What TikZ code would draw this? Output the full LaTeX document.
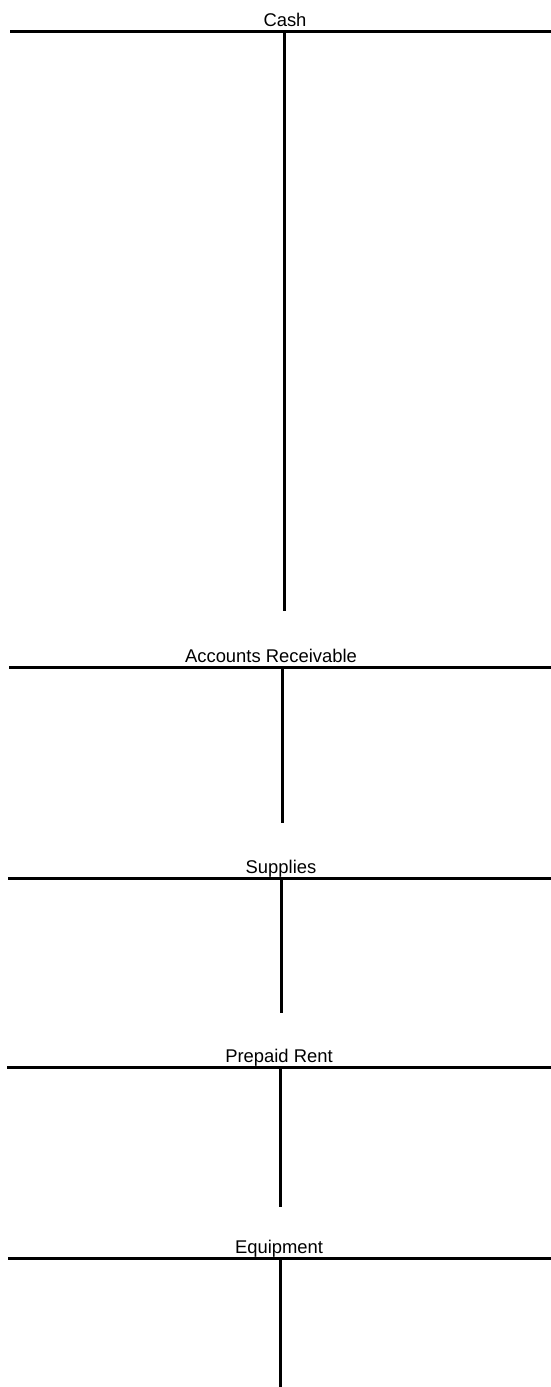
\documentclass[tikz,border=0pt]{standalone}
\usepackage{fontspec}
\setmainfont{Liberation Sans}
\usepackage{tikz}
\usetikzlibrary{calc}

\begin{document}
\begin{tikzpicture}[x=1pt,y=-1pt]

% Define styles
\tikzset{
    rule/.style={line width=3pt},
    title/.style={anchor=base, inner sep=0pt, font=\fontsize{18.4}{20}\selectfont}
}

% page frame
\useasboundingbox (0,0) rectangle (551,1387);

% Cash
\coordinate (cashL) at (10,31);
\coordinate (cashR) at (551,31);
\coordinate (cashT) at (284,31);
\coordinate (cashB) at (284,611);
\node[title] (cash) at (285,26) {Cash};
\draw[rule] (cashL) -- (cashR);
\draw[rule] (cashT) -- (cashB);

% Accounts Receivable
\coordinate (recL) at (9,667);
\coordinate (recR) at (551,667);
\coordinate (recT) at (282,667);
\coordinate (recB) at (282,823);
\node[title] (rec) at (271,662) {Accounts Receivable};
\draw[rule] (recL) -- (recR);
\draw[rule] (recT) -- (recB);

% Supplies
\coordinate (supL) at (8,878);
\coordinate (supR) at (551,878);
\coordinate (supT) at (281,878);
\coordinate (supB) at (281,1013);
\node[title] (sup) at (281,873) {Supplies};
\draw[rule] (supL) -- (supR);
\draw[rule] (supT) -- (supB);

% Prepaid Rent
\coordinate (rentL) at (7,1067);
\coordinate (rentR) at (551,1067);
\coordinate (rentT) at (280,1067);
\coordinate (rentB) at (280,1207);
\node[title] (rent) at (279,1062) {Prepaid Rent};
\draw[rule] (rentL) -- (rentR);
\draw[rule] (rentT) -- (rentB);

% Equipment
\coordinate (eqL) at (8,1258);
\coordinate (eqR) at (551,1258);
\coordinate (eqT) at (280,1258);
\coordinate (eqB) at (280,1387);
\node[title] (eq) at (279,1253) {Equipment};
\draw[rule] (eqL) -- (eqR);
\draw[rule] (eqT) -- (eqB);

\end{tikzpicture}
\end{document}
